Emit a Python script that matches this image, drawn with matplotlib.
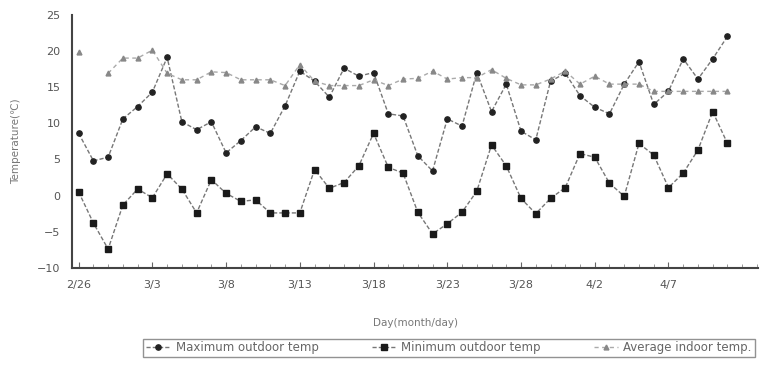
import matplotlib.pyplot as plt
import numpy as np

# day labels, 2/26 .. 4/11 (every 5th one shown)
tick_labels = ["2/26", "3/3", "3/8", "3/13", "3/18", "3/23", "3/28", "4/2", "4/7"]

max_out = [8.6, 4.8, 5.3, 10.6, 12.3, 14.3, 19.1, 10.2, 9.1, 10.2,
           5.9, 7.6, 9.5, 8.6, 12.4, 17.2, 15.8, 13.6, 17.6, 16.5,
           17.0, 11.3, 11.0, 5.5, 3.4, 10.6, 9.6, 17.0, 11.6, 15.4,
           8.9, 7.7, 15.8, 16.9, 13.8, 12.2, 11.3, 15.4, 18.5, 12.6,
           14.4, 18.9, 16.1, 18.9, 22.0]
min_out = [0.5, -3.8, -7.4, -1.3, 0.9, -0.3, 3.0, 0.9, -2.4, 2.2,
           0.3, -0.8, -0.6, -2.4, -2.4, -2.4, 3.6, 1.0, 1.8, 4.1,
           8.6, 3.9, 3.1, -2.3, -5.3, -3.9, -2.3, 0.6, 7.0, 4.1,
           -0.4, -2.5, -0.4, 1.1, 5.8, 5.3, 1.7, -0.1, 7.2, 5.6,
           1.1, 3.1, 6.3, 11.6, 7.2]
avg_in = [19.9, np.nan, 16.9, 19.0, 19.0, 20.1, 16.9, 16.0, 16.0, 17.1,
          17.0, 16.0, 16.0, 16.0, 15.2, 18.1, 15.8, 15.2, 15.2, 15.2,
          16.0, 15.2, 16.1, 16.2, 17.2, 16.1, 16.3, 16.3, 17.4, 16.2,
          15.3, 15.3, 16.1, 17.2, 15.4, 16.5, 15.4, 15.4, 15.4, 14.4,
          14.4, 14.4, 14.4, 14.4, 14.4]

x = np.arange(len(max_out))

fig = plt.figure(figsize=(7.63, 3.67), dpi=100)
ax = fig.add_axes([0.094, 0.27, 0.9, 0.69])

ax.plot(x, max_out, color='#777777', lw=1, ls=(0, (3, 1.5)), marker='o', markersize=3.8,
        markerfacecolor='#222222', markeredgecolor='#222222', label='Maximum outdoor temp')
ax.plot(x, min_out, color='#777777', lw=1, ls=(0, (3, 1.5)), marker='s', markersize=4.3,
        markerfacecolor='#1a1a1a', markeredgecolor='#1a1a1a', label='Minimum outdoor temp')
ax.plot(x, avg_in, color='#aaaaaa', lw=1, ls=(0, (3, 2.5)), marker='^', markersize=3.5,
        markerfacecolor='#888888', markeredgecolor='#888888', label='Average indoor temp.')

ax.set_ylim(-10, 25)
ax.set_yticks(range(-10, 26, 5))
ax.set_xlim(-0.47, 46.1)
ax.set_xticks(x[::5])
ax.set_xticklabels(tick_labels)
ax.set_xticks(np.arange(0, 47), minor=True)

for s in ['top', 'right']:
    ax.spines[s].set_visible(False)
ax.spines['left'].set_color('#444444')
ax.spines['bottom'].set_color('#444444')
ax.spines['left'].set_linewidth(1.5)
ax.spines['bottom'].set_linewidth(1.5)

ax.tick_params(axis='y', length=0, labelsize=8, labelcolor='#555555', pad=8)
ax.tick_params(axis='x', which='major', direction='in', length=4, labelsize=8,
               labelcolor='#555555', color='#666666', pad=9)
ax.tick_params(axis='x', which='minor', direction='in', length=3, color='#888888')

ax.set_ylabel('Temperature(\u2103)', fontsize=7.5, color='#777777', labelpad=12)
ax.set_xlabel('Day(month/day)', fontsize=7.5, color='#777777', labelpad=20)

leg = fig.legend(loc='lower right', bbox_to_anchor=(0.997, 0.01), ncol=3, fontsize=8.5,
                 frameon=True, fancybox=False, edgecolor='#777777',
                 handlelength=2, handletextpad=0.5, columnspacing=4.5,
                 borderpad=0.25)
for t in leg.get_texts():
    t.set_color('#666666')

fig.savefig('out.png', dpi=100)
